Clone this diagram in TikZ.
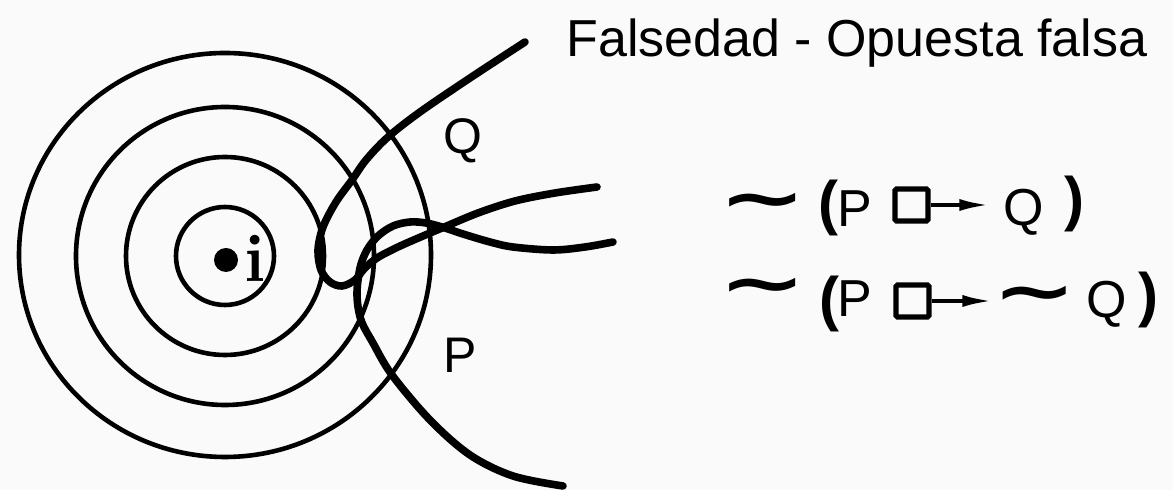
\documentclass[tikz,border=0pt]{standalone}
\usepackage{fontspec}
\newfontfamily\sansf{Liberation Sans}
\newfontfamily\symf{DejaVu Sans}
\usetikzlibrary{arrows.meta}
\definecolor{bg}{RGB}{250,250,250}
\begin{document}
\begin{tikzpicture}[x=0.5pt,y=-0.5pt,
  ring/.style={line width=2.3pt},
  stroke/.style={line width=3.8pt, line cap=round, line join=round},
  lbl/.style={inner sep=0pt, anchor=base, font=\sansf\fontsize{25pt}{30pt}\selectfont},
  sym/.style={inner sep=0pt, font=\sansf\fontsize{26pt}{30pt}\selectfont},
  paren/.style={inner sep=0pt, font=\sansf\bfseries\fontsize{30pt}{34pt}\selectfont},
  neg/.style={inner sep=0pt, font=\symf\bfseries\fontsize{34pt}{34pt}\selectfont},
  boxop/.style={draw, line width=2.6pt, minimum width=16.5pt, minimum height=16pt, inner sep=0pt, rounded corners=0.8pt},
  arr/.style={line width=1.9pt, -{Latex[length=15pt,width=6pt]}}]
\useasboundingbox (0,0) rectangle (1173,490);
\fill[bg] (0,0) rectangle (1173,490);
% concentric rings
\draw[ring] (225,256) circle[radius=24.5pt];
\draw[ring] (225,256) circle[radius=49.5pt];
\draw[ring] (225,256) circle[radius=74.5pt];
\draw[ring] (225,255) ellipse[x radius=103pt, y radius=101pt];
\fill (226,260) circle[radius=6pt];
\node[inner sep=0pt, anchor=base, font=\bfseries\fontsize{34pt}{36pt}\selectfont] (iw) at (255,282) {i};
% Q curve
\draw[stroke] plot[smooth, tension=0.55] coordinates {
 (525,42) (470,78) (420,112) (388,137) (366,160) (352,180) (336,202) (323,227)
 (318,250) (321,270) (330,282) (342,286) (355,280) (364,269) (377,258)
 (398,247) (423,236) (442,228) (478,213) (515,201) (555,193) (597,187)};
% P curve
\draw[stroke] plot[smooth, tension=0.55] coordinates {
 (563,486) (513,476) (470,455) (430,420) (392,375) (373,343) (361,320)
 (357,295) (360,268) (367,250) (378,236) (393,226) (410,222) (426,223)
 (442,227) (463,234) (490,242) (513,247) (553,250) (585,247) (613,242)};
% labels
\node[lbl] (Ql) at (463,154) {Q};
\node[lbl] (Pl) at (460,373) {P};
\node[inner sep=0pt, anchor=base west, font=\sansf\fontsize{26pt}{30pt}\selectfont] (title) at (566,57) {Falsedad - Opuesta falsa};
% formula 1
\node[neg] (n1) at (763,207) {\scalebox{1.55}[1.0]{∼}};
\node[paren] (lp1) at (828,208) {(};
\node[sym, anchor=base] (p1) at (855,227) {P};
\node[boxop] (b1) at (911.5,205) {};
\node[sym, anchor=base] (q1) at (1024,226) {Q};
\node[paren] (rp1) at (1074,204) {)};
\draw[arr, shorten >=7pt] (b1.east) -- (b1.east -| q1.west);
% formula 2
\node[neg] (n2) at (763,292) {\scalebox{1.55}[1.0]{∼}};
\node[paren] (lp2) at (829,304) {(};
\node[sym, anchor=base] (p2) at (855,317) {P};
\node[boxop] (b2) at (912.5,301) {};
\node[neg] (n3) at (1035,300) {\scalebox{1.48}[1.0]{∼}};
\node[sym, anchor=base] (q2) at (1107,318) {Q};
\node[paren] (rp2) at (1148,300) {)};
\draw[arr] (b2.east) -- (b2.east -| n3.west);
\end{tikzpicture}
\end{document}
